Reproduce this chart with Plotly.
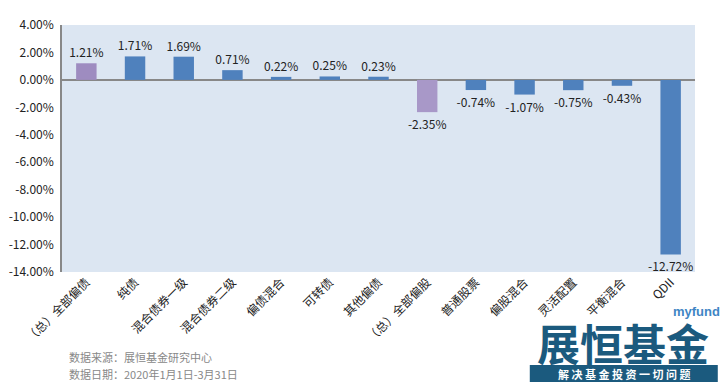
import plotly.graph_objects as go

categories = ["（总）全部偏债", "纯债", "混合债券一级", "混合债券二级", "偏债混合", "可转债", "其他偏债",
              "（总）全部偏股", "普通股票", "偏股混合", "灵活配置", "平衡混合", "QDII"]
returns = [1.21, 1.71, 1.69, 0.71, 0.22, 0.25, 0.23, -2.35, -0.74, -1.07, -0.75, -0.43, -12.72]
bar_colors = ["#9e8cc0", "#4f81bd", "#4f81bd", "#4f81bd", "#4f81bd", "#4f81bd", "#4f81bd",
              "#a898c8", "#4f81bd", "#4f81bd", "#4f81bd", "#4f81bd", "#4f81bd"]
y_ticks = [4, 2, 0, -2, -4, -6, -8, -10, -12, -14]

labels = [f"{v:.2f}%" for v in returns]

fig = go.Figure(go.Bar(
    x=categories, y=returns, marker=dict(color=bar_colors, line=dict(width=0)),
    text=labels, textposition="outside", cliponaxis=False, constraintext="none",
    textfont=dict(family="Noto Sans CJK SC", size=12, color="#222222"),
))

fig.update_layout(
    width=723, height=386,
    margin=dict(l=62, r=28, t=25, b=114),
    paper_bgcolor="white", plot_bgcolor="#dce6f2",
    bargap=0.58, showlegend=False,
    font=dict(family="Noto Sans CJK SC", size=12, color="#222222"),
)
fig.update_xaxes(tickangle=-45, showline=False, ticks="", showgrid=False, automargin=False,
                 tickfont=dict(family="Noto Sans CJK SC", size=12, color="#222222"))
fig.update_yaxes(range=[-14, 4], tickvals=y_ticks, ticktext=[f"{t:.2f}%" for t in y_ticks],
                 showgrid=False, zeroline=True, zerolinecolor="#888888", zerolinewidth=1.5,
                 showline=True, linecolor="#888888", linewidth=1.5, ticks="", automargin=False,
                 ticklabelstandoff=4,
                 tickfont=dict(family="Noto Sans CJK SC", size=12, color="#222222"))

fig.add_annotation(xref="paper", yref="paper", x=0.008, y=-0.344, xanchor="left", yanchor="middle",
                   text="数据来源：展恒基金研究中心", showarrow=False,
                   font=dict(family="Noto Sans CJK SC", size=11, color="#888888"))
fig.add_annotation(xref="paper", yref="paper", x=0.008, y=-0.413, xanchor="left", yanchor="middle",
                   text="数据日期：2020年1月1日-3月31日", showarrow=False,
                   font=dict(family="Noto Sans CJK SC", size=11, color="#888888"))

# logo
fig.add_annotation(xref="paper", yref="paper", x=0.887, y=-0.282, xanchor="center", yanchor="middle",
                   text="<b>展恒基金</b>", showarrow=False,
                   font=dict(family="Noto Sans CJK SC", size=43, color="#1b5a7e"))
fig.add_annotation(xref="paper", yref="paper", x=1.042, y=-0.158, xanchor="right", yanchor="middle",
                   text="<b>myfund</b>", showarrow=False,
                   font=dict(family="Liberation Sans", size=13, color="#3f86c4"))
fig.add_shape(type="rect", xref="paper", yref="paper", x0=0.739, x1=1.036, y0=-0.377, y1=-0.445,
              fillcolor="#1b5a7e", line=dict(width=0))
fig.add_annotation(xref="paper", yref="paper", x=0.8875, y=-0.411, xanchor="center", yanchor="middle",
                   text="<b>解 决 基 金 投 资 一 切 问 题</b>", showarrow=False,
                   font=dict(family="Noto Sans CJK SC", size=11, color="white"))

fig.write_html("out.html", config={"displayModeBar": False},
               post_script="document.body.style.margin='0';")
